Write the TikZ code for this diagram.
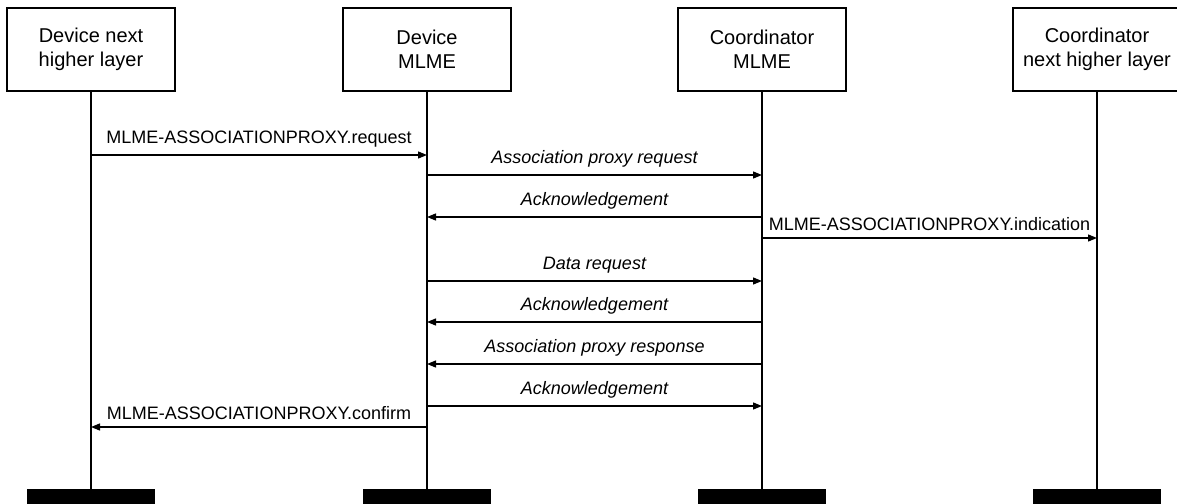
\documentclass[tikz,border=0pt]{standalone}
\usepackage{fontspec}
\setmainfont{Liberation Sans}
\usetikzlibrary{arrows.meta}

\begin{document}
\begin{tikzpicture}[x=1pt,y=-1pt,
    box/.style={draw, line width=1.4pt, minimum width=168pt, minimum height=83pt,
        align=center, inner sep=0pt, font=\fontsize{20}{23.5}\selectfont},
    bar/.style={fill=black, minimum width=128pt, minimum height=16pt, inner sep=0pt},
    life/.style={line width=1.3pt},
    msg/.style={line width=1.3pt, -{Triangle[length=9pt,width=7pt]}},
    lbl/.style={above=3.5pt, font=\fontsize{18}{20}\selectfont}]
        \clip (0,0) rectangle (1177,503);
        \fill[white] (0,0) rectangle (1177,503);

        % entity
        \node[box] (dnhl) at (91,49.5) {Device next\\higher layer};
        \node[box] (dmlme) at (427,49.5) {Device\\MLME};
        \node[box] (cmlme) at (762,49.5) {Coordinator\\MLME};
        \node[box] (cnhl) at (1097,49.5) {Coordinator\\next higher layer};

        % konce
        \node[bar] (dnhlend) at (91,497) {};
        \node[bar] (dmlmeend) at (427,497) {};
        \node[bar] (cmlmeend) at (762,497) {};
        \node[bar] (cnhlend) at (1097,497) {};

        % zivotni cary
        \draw[life] (dnhl) -- (dnhlend);
        \draw[life] (dmlme) -- (dmlmeend);
        \draw[life] (cmlme) -- (cmlmeend);
        \draw[life] (cnhl) -- (cnhlend);

        % zpravy
        \coordinate (m1) at (0,155);
        \coordinate (m2) at (0,175);
        \coordinate (m3) at (0,217);
        \coordinate (m4) at (0,238);
        \coordinate (m5) at (0,281);
        \coordinate (m6) at (0,322);
        \coordinate (m7) at (0,364);
        \coordinate (m8) at (0,406);
        \coordinate (m9) at (0,427);

        \draw[msg] (dnhl |- m1) -- node[lbl] {MLME-ASSOCIATIONPROXY.request} (dmlme |- m1);
        \draw[msg] (dmlme |- m2) -- node[lbl] {\itshape Association proxy request} (cmlme |- m2);
        \draw[msg] (cmlme |- m3) -- node[lbl] {\itshape Acknowledgement} (dmlme |- m3);
        \draw[msg] (cmlme |- m4) -- node[lbl] {MLME-ASSOCIATIONPROXY.indication} (cnhl |- m4);
        \draw[msg] (dmlme |- m5) -- node[lbl] {\itshape Data request} (cmlme |- m5);
        \draw[msg] (cmlme |- m6) -- node[lbl] {\itshape Acknowledgement} (dmlme |- m6);
        \draw[msg] (cmlme |- m7) -- node[lbl] {\itshape Association proxy response} (dmlme |- m7);
        \draw[msg] (dmlme |- m8) -- node[lbl] {\itshape Acknowledgement} (cmlme |- m8);
        \draw[msg] (dmlme |- m9) -- node[lbl] {MLME-ASSOCIATIONPROXY.confirm} (dnhl |- m9);
    \end{tikzpicture}
\end{document}
